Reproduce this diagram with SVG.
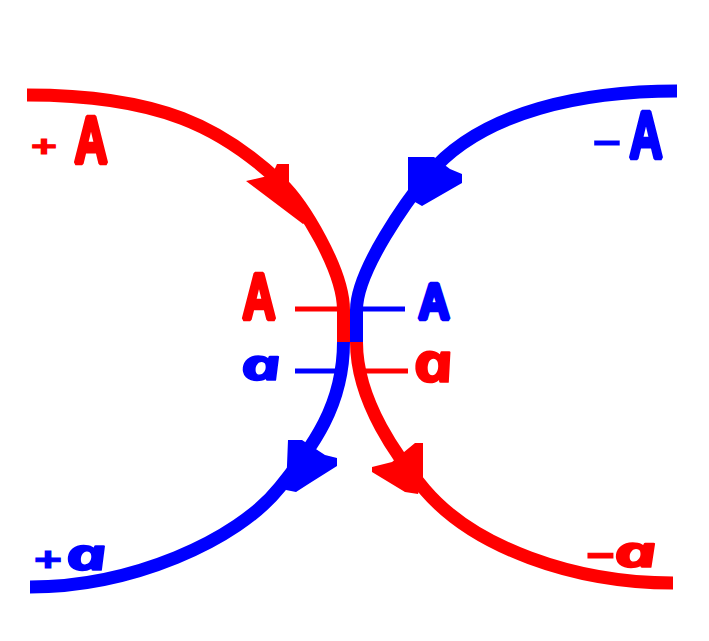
<svg xmlns="http://www.w3.org/2000/svg" width="709" height="641" viewBox="0 0 709 641">
<style>
.curve{fill:none;stroke-width:13;stroke-linecap:butt;stroke-linejoin:round}
.tick{fill:none;stroke-width:5;stroke-linecap:butt}
.r{stroke:#ff0000}
.b{stroke:#0000ff}
.rf{fill:#ff0000}
.bf{fill:#0000ff}
.cap{font-family:"Liberation Sans",Arial,sans-serif;font-weight:bold}
.big{stroke-width:4.5;stroke-linejoin:bevel}
.sign{stroke-width:1}
.low{font-family:"Open Sans","Noto Sans","DejaVu Serif",serif;font-weight:bold;font-style:italic;stroke-width:1.6;stroke-linejoin:round}
</style>
<rect width="709" height="641" fill="#ffffff"/>
<g id="connectors">
  <g id="red-strand">
    <path class="curve r" d="M27,95 C160,95 223,128 281,183 C302.6,203.7 343.5,270 343.5,310 L343.5,342"/>
    <path class="curve r" d="M356.5,342 C356.5,402 399,459.6 425,490 C473.75,547 573,583 673,583"/>
    <polygon class="rf" points="246,181 272,175 277,164 289,164 289,192 308,220 303,224"/>
    <polygon class="rf" points="372,467 392,462 415,443 423,443 423,480 418,494 405,492 372,472"/>
  </g>
  <g id="blue-strand">
    <path class="curve b" d="M677,91 C587,91 482.4,109.55 428,175 C408.8,198.1 356.5,270 356.5,310 L356.5,342"/>
    <path class="curve b" d="M343.5,342 C343.5,406 312.9,445.7 280,487 C236.6,541.6 130,587 30,587"/>
    <polygon class="bf" points="408,157 434,157 450,169 462,174 462,183 422,206 408,198"/>
    <polygon class="bf" points="288,440 302,440 325,455 337,458 337,466 310,483 296,492 286,490"/>
  </g>
  <g id="ticks">
    <line class="tick r" x1="295" y1="309" x2="345" y2="309"/>
    <line class="tick b" x1="355" y1="309" x2="405" y2="309"/>
    <line class="tick b" x1="295" y1="371" x2="345" y2="371"/>
    <line class="tick r" x1="355" y1="371" x2="408" y2="371"/>
  </g>
</g>
<g id="label-plusA" class="rf r">
  <text class="cap sign" x="31" y="156" font-size="30" textLength="26" lengthAdjust="spacingAndGlyphs">+</text>
  <text class="cap big" x="74.25" y="162.75" font-size="66" textLength="33.5" lengthAdjust="spacingAndGlyphs">A</text>
</g>
<g id="label-minusA" class="bf b">
  <text class="cap sign" x="592" y="152" font-size="34" textLength="30" lengthAdjust="spacingAndGlyphs">-</text>
  <text class="cap big" x="629.25" y="157.75" font-size="67" textLength="33.5" lengthAdjust="spacingAndGlyphs">A</text>
</g>
<g id="label-A-left" class="rf r">
  <text class="cap big" x="242.25" y="318.75" font-size="64" textLength="33.5" lengthAdjust="spacingAndGlyphs">A</text>
</g>
<g id="label-A-right" class="bf b">
  <text class="cap big" x="418.25" y="318.75" font-size="50" textLength="31.5" lengthAdjust="spacingAndGlyphs">A</text>
</g>
<g id="label-a-left" class="bf b">
  <text class="low" transform="translate(243,380) skewX(12)" font-size="43" textLength="41" lengthAdjust="spacingAndGlyphs">a</text>
</g>
<g id="label-a-right" class="rf r">
  <text class="low" transform="translate(416,382) skewX(12)" font-size="55" textLength="41" lengthAdjust="spacingAndGlyphs">a</text>
</g>
<g id="label-plusa" class="bf b">
  <text class="cap sign" x="34" y="571" font-size="34" textLength="28" lengthAdjust="spacingAndGlyphs">+</text>
  <text class="low" transform="translate(68,570) skewX(12)" font-size="44" textLength="42" lengthAdjust="spacingAndGlyphs">a</text>
</g>
<g id="label-minusa" class="rf r">
  <text class="cap sign" x="585" y="566" font-size="40" textLength="31" lengthAdjust="spacingAndGlyphs">-</text>
  <text class="low" transform="translate(616,567) skewX(12)" font-size="43" textLength="44" lengthAdjust="spacingAndGlyphs">a</text>
</g>
</svg>
